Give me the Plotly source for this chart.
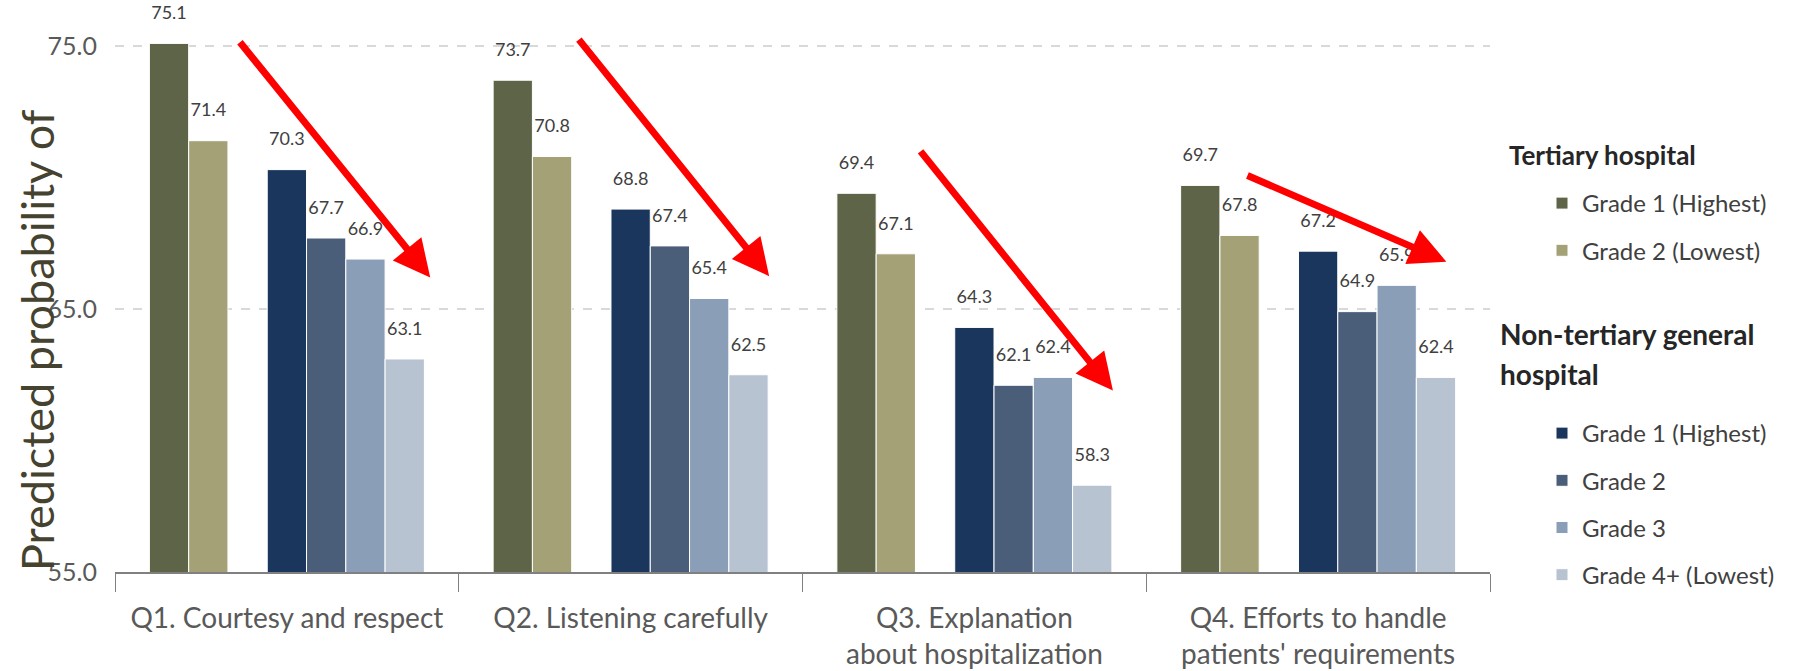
import plotly.graph_objects as go

categories = ["Q1. Courtesy and respect", "Q2. Listening carefully",
              "Q3. Explanation<br>about hospitalization",
              "Q4. Efforts to handle<br>patients' requirements"]
tertiary_g1 = [75.1, 73.7, 69.4, 69.7]
tertiary_g2 = [71.4, 70.8, 67.1, 67.8]
nontert_g1 = [70.3, 68.8, 64.3, 67.2]
nontert_g2 = [67.7, 67.4, 62.1, 64.9]
nontert_g3 = [66.9, 65.4, 62.4, 65.9]
nontert_g4 = [63.1, 62.5, 58.3, 62.4]
spacer = [0, 0, 0, 0]
y_ticks = [55, 65, 75]

# red trend arrows (tail -> head), in category-index / value coordinates
arrow_tails = [(-0.14, 75.2), (0.846, 75.3), (1.84, 71.05), (2.79, 70.1)]
arrow_heads = [(0.417, 66.2), (1.403, 66.25), (2.403, 61.9), (3.373, 66.8)]

FONT = "Lato"
x_idx = list(range(len(categories)))
boundaries = [i - 0.5 for i in x_idx] + [x_idx[-1] + 0.5]

series = [
    ("Grade 1 (Highest)", tertiary_g1, "#5d6447", "legend"),
    ("Grade 2 (Lowest)", tertiary_g2, "#a4a177", "legend"),
    (None, spacer, "rgba(0,0,0,0)", None),
    ("Grade 1 (Highest)", nontert_g1, "#1a365d", "legend2"),
    ("Grade 2", nontert_g2, "#4b5e79", "legend2"),
    ("Grade 3", nontert_g3, "#8b9eb7", "legend2"),
    ("Grade 4+ (Lowest)", nontert_g4, "#b7c3d1", "legend2"),
]

fig = go.Figure()
for i, (name, vals, color, leg) in enumerate(series):
    if name is None:
        fig.add_trace(go.Bar(x=x_idx, y=vals, marker_color=color, showlegend=False,
                             hoverinfo="skip"))
        fig.add_trace(go.Scatter(x=x_idx, y=vals, mode="markers", marker=dict(size=1, opacity=0),
                                 showlegend=False, hoverinfo="skip"))
        continue
    fig.add_trace(go.Bar(
        x=x_idx, y=vals, name=name, marker=dict(color=color, line=dict(color="white", width=1)),
        legendgroup=f"g{i}", legend=leg,
    ))
    fig.add_trace(go.Scatter(
        x=x_idx, y=vals, mode="markers+text", marker=dict(size=30, opacity=0),
        text=[f"{v:.1f}" for v in vals], textposition="top center", cliponaxis=False,
        textfont=dict(size=18, color="#404040", family=FONT),
        showlegend=False, hoverinfo="skip",
    ))

for (tx, ty), (hx, hy) in zip(arrow_tails, arrow_heads):
    fig.add_annotation(x=hx, y=hy, ax=tx, ay=ty, xref="x", yref="y", axref="x", ayref="y",
                       showarrow=True, arrowhead=2, arrowsize=1.05, arrowwidth=7,
                       arrowcolor="#ff0000", text="")

# legend group headings
def py(pix):
    return (572 - pix) / 562

fig.add_annotation(text="<b>Tertiary hospital</b>", xref="paper", yref="paper",
                   x=(1507 - 115) / 1375, y=py(155), xanchor="left", yanchor="middle",
                   showarrow=False, font=dict(size=26, color="#262626", family=FONT))
fig.add_annotation(text="<b>Non-tertiary general</b>", xref="paper", yref="paper",
                   x=(1498 - 115) / 1375, y=py(334), xanchor="left", yanchor="middle",
                   showarrow=False, font=dict(size=28, color="#262626", family=FONT))
fig.add_annotation(text="<b>hospital</b>", xref="paper", yref="paper",
                   x=(1498 - 115) / 1375, y=py(374), xanchor="left", yanchor="middle",
                   showarrow=False, font=dict(size=28, color="#262626", family=FONT))
# y-axis title
fig.add_annotation(text="Predicted probability of", xref="paper", yref="paper",
                   x=(37 - 115) / 1375, y=py(340), xanchor="center", yanchor="middle",
                   textangle=-90, showarrow=False, font=dict(size=45, color="#45432f", family=FONT))

leg_common = dict(xref="container", yref="container", xanchor="left", yanchor="top",
                  font=dict(size=24, color="#404040", family=FONT), traceorder="grouped",
                  tracegroupgap=13, bgcolor="rgba(0,0,0,0)")

fig.update_layout(
    width=1804, height=671,
    margin=dict(l=115, r=314, t=10, b=99, autoexpand=False),
    paper_bgcolor="white", plot_bgcolor="white",
    barmode="group", bargap=0.2, bargroupgap=0,
    scattermode="group", scattergap=0.2,
    font=dict(family=FONT, color="#404040"),
    legend=dict(x=1542 / 1804, y=1 - 181 / 671, **leg_common),
    legend2=dict(x=1542 / 1804, y=1 - 411 / 671, **leg_common),
    showlegend=True,
)
fig.update_xaxes(
    tickmode="array", tickvals=x_idx, ticktext=categories, automargin=False,
    range=[-0.5, 3.5], showline=True, linecolor="#808080", linewidth=2,
    ticks="", ticklabelstandoff=20,
    minor=dict(tickmode="array", tickvals=boundaries, ticks="outside", ticklen=18,
               tickcolor="#808080", tickwidth=1, showgrid=False),
    tickfont=dict(size=28, color="#595959", family=FONT), showgrid=False,
)
fig.update_yaxes(
    range=[55, 76.37], tickvals=y_ticks, tickformat=".1f", automargin=False,
    tickfont=dict(size=25, color="#595959", family=FONT), ticklabelstandoff=17,
    showgrid=True, gridcolor="#d9d9d9", gridwidth=2, griddash="dash",
    zeroline=False, showline=False,
)
fig.write_html("out.html")
